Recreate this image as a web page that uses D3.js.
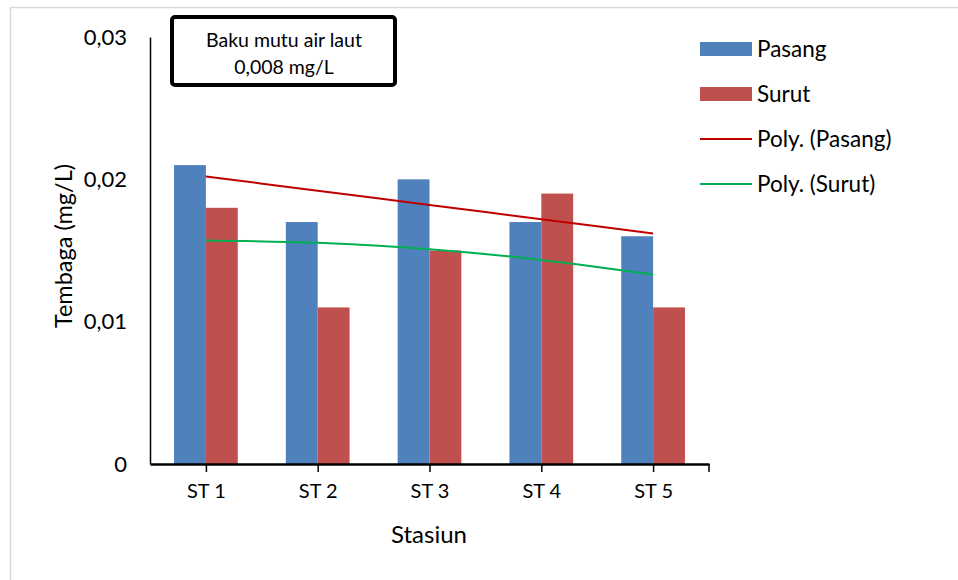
<!DOCTYPE html>
<html><head><meta charset="utf-8">
<script src="https://cdn.jsdelivr.net/npm/d3@7"></script>
<style>body{margin:0;background:#fff}svg{display:block}text{font-family:Lato,"Open Sans",sans-serif;fill:#000}</style>
</head><body><svg id="c" width="958" height="580"></svg>
<script>
const categories = ["ST 1","ST 2","ST 3","ST 4","ST 5"];
const pasang = [0.021,0.017,0.020,0.017,0.016];
const surut  = [0.018,0.011,0.015,0.019,0.011];
const trendPasang = [0.0202,0.0192,0.0182,0.0172,0.0162];
const trendSurut  = [0.01571,0.01554,0.01509,0.01434,0.01331];
const yTicks = [0,0.01,0.02,0.03];
const yTickLabels = ["0","0,01","0,02","0,03"];
const seriesNames = ["Pasang","Surut","Poly. (Pasang)","Poly. (Surut)"];

const svg = d3.select("#c");
svg.append("rect").attr("x",10.5).attr("y",7.5).attr("width",960).attr("height",600)
  .attr("fill","#fff").attr("stroke","#d9d9d9").attr("stroke-width",1.5);

const L=150,R=709,T=37,B=464;
const x = d3.scaleBand().domain(categories).range([L,R]).paddingInner(0.43).paddingOuter(0.215);
const xc = d3.scalePoint().domain(categories).range([L,R]).padding(0.5);
const y = d3.scaleLinear().domain([0,0.03]).range([B,T]);
const colors = {p:"#4F81BD", s:"#C0504D", tp:"#C00000", ts:"#00B050"};

// bars
const g = svg.append("g");
categories.forEach((c,i)=>{
  const bw = x.bandwidth()/2;
  g.append("rect").attr("x",x(c)).attr("y",y(pasang[i])).attr("width",bw).attr("height",B-y(pasang[i])).attr("fill",colors.p);
  g.append("rect").attr("x",x(c)+bw).attr("y",y(surut[i])).attr("width",bw).attr("height",B-y(surut[i])).attr("fill",colors.s);
});

// trend lines
const line = d3.line().x((d,i)=>xc(categories[i])).y(d=>y(d)).curve(d3.curveMonotoneX);
svg.append("path").attr("d",line(trendPasang)).attr("fill","none").attr("stroke",colors.tp).attr("stroke-width",2);
svg.append("path").attr("d",line(trendSurut)).attr("fill","none").attr("stroke",colors.ts).attr("stroke-width",2);

// y axis
const yAxis = d3.axisLeft(y).tickValues(yTicks).tickFormat((d,i)=>yTickLabels[i]).tickSize(0).tickPadding(23);
const ya = svg.append("g").attr("transform",`translate(${L},0)`).call(yAxis);
ya.select(".domain").attr("stroke","#000").attr("stroke-width",1.5);
ya.selectAll("text").style("font-size","22px").style("font-family","Lato, sans-serif");

// x axis
const xAxis = d3.axisBottom(xc).tickSize(8).tickPadding(12).tickSizeOuter(0);
const xa = svg.append("g").attr("transform",`translate(0,${B})`).call(xAxis);
xa.select(".domain").attr("stroke","#000").attr("stroke-width",2.5);
xa.selectAll(".tick line").attr("stroke","#000").attr("stroke-width",1.5);
xa.selectAll("text").style("font-size","20px").style("font-family","Lato, sans-serif");
xa.append("line").attr("x1",R).attr("x2",R).attr("y1",0).attr("y2",8).attr("stroke","#000").attr("stroke-width",1.5);

// axis titles
svg.append("text").attr("x",429).attr("y",543).attr("text-anchor","middle").style("font-size","24px").text("Stasiun");
svg.append("text").attr("transform","translate(72,246) rotate(-90)").attr("text-anchor","middle").style("font-size","23.5px").text("Tembaga (mg/L)");

// annotation box
svg.append("rect").attr("x",172).attr("y",17).attr("width",223).attr("height",68).attr("rx",3)
  .attr("fill","#fff").attr("stroke","#000").attr("stroke-width",4);
svg.append("text").attr("x",284).attr("y",47).attr("text-anchor","middle").style("font-size","19.5px").text("Baku mutu air laut");
svg.append("text").attr("x",284).attr("y",74).attr("text-anchor","middle").style("font-size","19.5px").text("0,008 mg/L");

// legend
const lg = svg.append("g");
const ly = [49,94,139,184];
seriesNames.forEach((n,i)=>{
  if(i<2){
    lg.append("rect").attr("x",700).attr("y",ly[i]-7).attr("width",52).attr("height",14).attr("fill",i===0?colors.p:colors.s);
  } else {
    lg.append("line").attr("x1",700).attr("x2",752).attr("y1",ly[i]).attr("y2",ly[i]).attr("stroke",i===2?colors.tp:colors.ts).attr("stroke-width",2);
  }
  lg.append("text").attr("x",757).attr("y",ly[i]).attr("dy","0.35em").style("font-size","22.5px").text(n);
});
</script></body></html>
